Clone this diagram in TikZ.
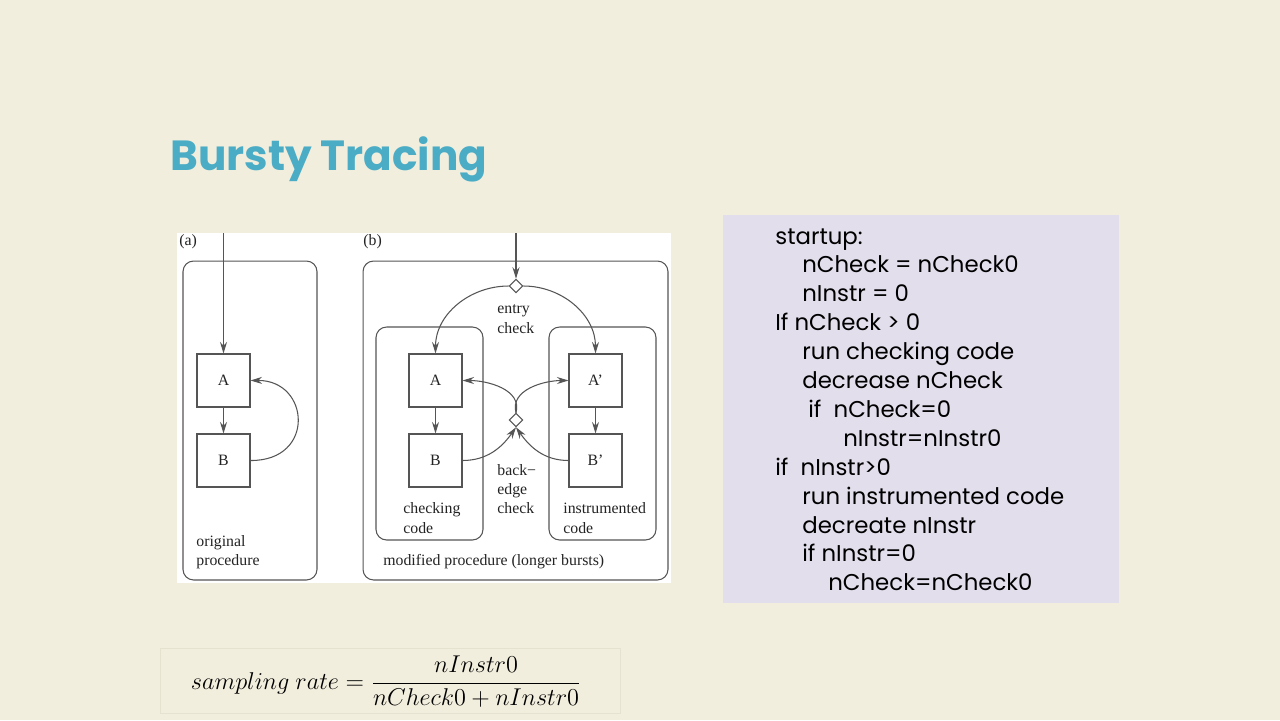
\documentclass[tikz,border=0pt]{standalone}
\usepackage{fontspec}
\usepackage{graphicx}
\setmainfont{Liberation Serif}
\newfontfamily\codefont{Poppins}
\newfontfamily\titlefont{Poppins}
\usepackage{tikz}
\usetikzlibrary{positioning,arrows.meta,shapes.geometric}
\definecolor{bg}{RGB}{242,238,221}
\definecolor{titleblue}{RGB}{75,172,198}
\definecolor{panel}{RGB}{227,222,236}
\definecolor{linegray}{RGB}{85,85,85}
\definecolor{textdark}{RGB}{35,35,35}
\definecolor{formline}{RGB}{230,226,208}
\tikzset{
    blk/.style={draw=linegray, fill=white, line width=0.6pt, minimum size=1.06cm, inner sep=0pt, font=\fontsize{9}{11}\selectfont, text=textdark},
    region/.style={draw=linegray, rounded corners=6pt, line width=0.6pt},
    check/.style={diamond, draw=linegray, fill=white, line width=0.6pt, minimum size=0.27cm, inner sep=0pt},
    arrow/.style={-{Stealth[length=2.3mm,width=1.4mm]}, line width=0.6pt, draw=linegray},
    lbl/.style={font=\fontsize{9}{11}\selectfont, align=left, inner sep=0pt, text=textdark},
    code/.style={font=\codefont\fontsize{13}{15}\selectfont, anchor=base west, inner sep=0pt, text=black}
}
\begin{document}
\begin{tikzpicture}[x=0.02cm, y=-0.02cm]
\fill[bg] (0,0) rectangle (1280,720);
\useasboundingbox (0,0) rectangle (1280,720);
\node[anchor=base west, inner sep=0pt, text=titleblue, font=\titlefont\bfseries\fontsize{24}{29}\selectfont] (title) at (170,170) {Bursty Tracing};

% figure
\fill[white] (177,233) rectangle (671,583);
\node[region, minimum width=2.68cm, minimum height=6.38cm] (origbox) at (250,420.5) {};
\node[region, minimum width=6.10cm, minimum height=6.38cm] (modbox) at (515.5,420.5) {};
\node[region, minimum width=2.14cm, minimum height=4.26cm] (chkbox) at (429.5,433.5) {};
\node[region, minimum width=2.14cm, minimum height=4.26cm] (insbox) at (602.5,433.5) {};
\node[lbl, anchor=west] (tagA) at (179,242) {(a)};
\node[lbl, anchor=west] (tagB) at (363,242) {(b)};

\node[blk] (oA) at (223.5,380.5) {A};
\node[blk] (oB) at (223.5,460.5) {B};
\coordinate (oin) at (223.5,233);
\draw[arrow] (oin) -- (oA);
\draw[arrow] (oA) -- (oB);
\draw[arrow] (oB.east) .. controls (316,461) and (310,380) .. (oA.east);
\node[lbl, anchor=west] (origlbl) at (196,552) {original\\procedure};

\node[blk] (cA) at (435.5,380.5) {A};
\node[blk] (cB) at (435.5,460.5) {B};
\node[blk] (iA) at (595.5,380.5) {A’};
\node[blk] (iB) at (595.5,460.5) {B’};
\node[check] (entry) at (516,286) {};
\node[check] (back) at (516,420) {};
\coordinate (bin) at (516,233);
\draw[arrow] (bin) -- (entry);
\draw[arrow] (entry.west) to[out=180,in=90] (cA.north);
\draw[arrow] (entry.east) to[out=0,in=90] (iA.north);
\draw[arrow] (cA) -- (cB);
\draw[arrow] (iA) -- (iB);
\draw[arrow] (cB.east) to[out=0,in=-125] (back.south);
\draw[arrow] (iB.west) to[out=180,in=-55] (back.south);
\draw[arrow] (back.north) to[out=75,in=0] (cA.east);
\draw[arrow] (back.north) to[out=105,in=180] (iA.west);
\node[lbl, anchor=west] (entrylbl) at (497,319) {entry\\check};
\node[lbl, anchor=west] (backlbl) at (497,489) {back−\\edge\\check};
\node[lbl, anchor=west] (chklbl) at (403,518) {checking\\code};
\node[lbl, anchor=west] (inslbl) at (563,518) {instrumented\\code};
\node[lbl, anchor=west] (modlbl) at (383,562) {modified procedure (longer bursts)};

% pseudo code
\fill[panel] (723,215) rectangle (1119,603);
\foreach \i/\xx/\txt in {0/775/startup:, 1/802/nCheck = nCheck0, 2/802/nInstr = 0,
    3/775/If nCheck > 0, 4/802/run checking code, 5/802/decrease nCheck,
    6/808/if\ \ nCheck=0, 7/843/nInstr=nInstr0, 8/775/if\ \ nInstr>0,
    9/802/run instrumented code, 10/802/decreate nInstr, 11/802/if nInstr=0,
    12/828/nCheck=nCheck0}
  \node[code] (line\i) at (\xx,244+28.9*\i) {\txt};

% formula
\draw[formline, fill=bg] (160,648) rectangle (620,713);
\node[inner sep=0pt, font=\fontsize{14.4}{17}\selectfont] (rate) at (386,682)
  {\scalebox{0.96}{$\displaystyle sampling\ rate=\frac{nInstr0}{nCheck0+nInstr0}$}};
\end{tikzpicture}
\end{document}
